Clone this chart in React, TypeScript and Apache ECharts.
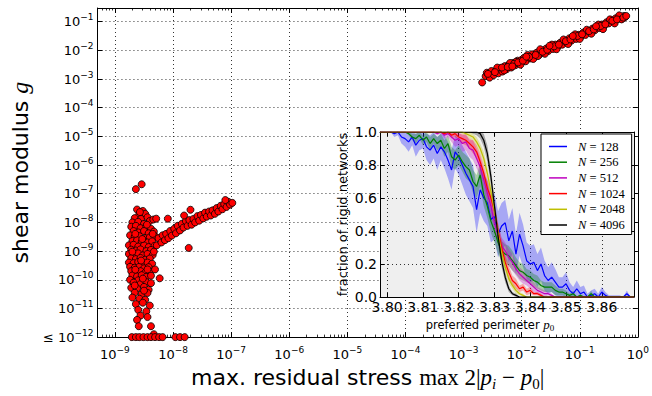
import React, { useEffect, useRef } from 'react';
import * as echarts from 'echarts';

// ---------- Main scatter (values stored as log10 of stress and modulus) ----------
const columnPointsLog: [number, number][] = [
  [-8.62,-7.55],[-8.52,-7.60],[-8.58,-7.72],[-8.48,-7.70],[-8.66,-7.85],[-8.55,-7.88],[-8.44,-7.82],[-8.70,-8.00],[-8.60,-7.98],[-8.50,-8.05],[-8.40,-7.95],[-8.34,-7.90],[-8.29,-7.87],
  [-8.72,-8.15],[-8.64,-8.12],[-8.56,-8.20],[-8.46,-8.15],[-8.38,-8.22],[-8.68,-8.30],[-8.60,-8.35],[-8.50,-8.30],[-8.42,-8.38],[-8.33,-8.32],[-8.74,-8.45],[-8.66,-8.50],[-8.58,-8.48],[-8.48,-8.55],[-8.40,-8.52],[-8.30,-8.50],[-8.70,-8.65],[-8.62,-8.62],[-8.54,-8.68],[-8.44,-8.70],[-8.36,-8.66],[-8.76,-8.80],[-8.68,-8.78],[-8.60,-8.84],[-8.50,-8.80],[-8.42,-8.86],[-8.32,-8.82],[-8.72,-8.95],[-8.64,-8.98],[-8.56,-8.94],[-8.46,-9.00],[-8.38,-8.96],
  [-8.76,-9.10],[-8.68,-9.12],[-8.60,-9.08],[-8.52,-9.15],[-8.44,-9.10],[-8.35,-9.14],[-8.72,-9.25],[-8.64,-9.28],[-8.56,-9.24],[-8.48,-9.30],[-8.40,-9.26],[-8.76,-9.40],[-8.68,-9.42],[-8.60,-9.38],[-8.52,-9.45],[-8.44,-9.40],[-8.36,-9.44],[-8.74,-9.55],[-8.66,-9.58],[-8.58,-9.55],[-8.50,-9.60],[-8.42,-9.56],[-8.72,-9.70],[-8.64,-9.72],[-8.56,-9.70],[-8.48,-9.75],[-8.40,-9.72],[-8.70,-9.85],[-8.62,-9.88],[-8.54,-9.84],[-8.46,-9.90],[-8.38,-9.86],[-8.74,-10.00],[-8.60,-10.02],[-8.31,-9.64],[-8.23,-9.95],
  [-8.68,-10.10],[-8.56,-10.15],[-8.46,-10.08],[-8.38,-10.12],[-8.72,-10.28],[-8.62,-10.30],[-8.50,-10.25],[-8.42,-10.35],[-8.66,-10.45],[-8.54,-10.50],[-8.44,-10.46],[-8.70,-10.62],[-8.58,-10.66],[-8.48,-10.70],[-8.64,-10.85],[-8.52,-10.80],[-8.40,-10.90],[-8.60,-11.05],[-8.46,-11.10],[-8.56,-11.25],[-8.62,-11.40],[-8.44,-11.30],[-8.59,-11.62],[-8.38,-11.62],[-8.33,-11.90],
  [-8.57,-7.64],[-8.45,-8.08],[-8.65,-8.40],[-8.35,-8.40],[-8.53,-8.58],[-8.70,-9.02],[-8.33,-9.02],[-8.55,-9.33],[-8.65,-9.65],[-8.44,-9.64],[-8.52,-9.96],[-8.66,-10.20],[-8.50,-10.38],
  [-8.64,-6.84],[-8.54,-6.67],
];

const branchPointsLog: [number, number][] = [
  [-8.28,-8.80],[-8.25,-8.55],[-8.20,-8.70],[-8.18,-8.45],[-8.14,-8.62],[-8.12,-8.40],[-8.08,-8.55],[-8.05,-8.30],[-8.02,-8.46],[-7.98,-8.22],
  [-7.95,-8.38],[-7.92,-8.12],[-7.88,-8.28],[-7.85,-8.05],[-7.82,-8.18],[-7.78,-7.95],[-7.75,-8.12],[-7.72,-7.92],[-7.68,-8.08],[-7.65,-7.88],
  [-7.62,-8.00],[-7.58,-7.78],[-7.55,-7.94],[-7.52,-7.74],[-7.48,-7.86],[-7.45,-7.66],[-7.42,-7.80],[-7.38,-7.62],[-7.35,-7.76],[-7.32,-7.58],
  [-7.28,-7.70],[-7.25,-7.50],[-7.22,-7.62],[-7.18,-7.42],[-7.15,-7.54],[-7.12,-7.36],[-7.08,-7.46],[-7.05,-7.28],[-7.02,-7.38],[-6.98,-7.32],
  [-7.10,-7.22],[-7.70,-7.56],[-8.09,-7.87],[-7.81,-7.76],[-7.73,-8.89],
];

// stress (log10) of networks whose modulus is at or below 1e-12
const floorStressLog: number[] = [-8.71,-8.64,-8.58,-8.51,-8.44,-8.38,-8.31,-8.24,-8.18,-7.96,-7.88,-7.80];
const floorModulus = 1e-12;

const rigidPointsLog: [number, number][] = [
  [-2.68,-3.12],[-2.62,-2.90],[-2.60,-2.78],[-2.55,-2.95],[-2.52,-2.72],[-2.48,-2.86],[-2.44,-2.70],[-2.40,-2.80],[-2.36,-2.62],[-2.33,-2.74],
  [-2.29,-2.55],[-2.26,-2.66],[-2.22,-2.50],[-2.18,-2.60],[-2.15,-2.44],[-2.11,-2.52],[-2.07,-2.36],[-2.04,-2.46],[-2.00,-2.33],[-1.96,-2.26],
  [-1.93,-2.38],[-1.89,-2.20],[-1.85,-2.28],[-1.82,-2.14],[-1.78,-2.22],[-1.74,-2.08],[-1.70,-2.16],[-1.66,-2.01],[-1.62,-2.08],[-1.58,-1.94],
  [-1.54,-2.02],[-1.50,-1.88],[-1.46,-1.95],[-1.42,-1.80],[-1.38,-1.88],[-1.34,-1.74],[-1.30,-1.80],[-1.26,-1.66],[-1.22,-1.74],[-1.18,-1.58],
  [-1.14,-1.66],[-1.10,-1.52],[-1.06,-1.60],[-1.02,-1.46],[-0.98,-1.52],[-0.94,-1.38],[-0.90,-1.46],[-0.86,-1.32],[-0.82,-1.38],[-0.78,-1.24],
  [-0.74,-1.30],[-0.70,-1.16],[-0.66,-1.22],[-0.62,-1.10],[-0.58,-1.14],[-0.54,-1.02],[-0.50,-1.06],[-0.46,-0.95],[-0.42,-0.98],[-0.38,-0.88],
  [-0.34,-0.90],[-0.30,-0.82],[-0.27,-0.84],[-0.24,-0.80],[-0.26,-0.88],
  [-2.10,-2.40],[-2.02,-2.50],[-1.90,-2.16],[-1.80,-2.30],[-1.68,-1.96],[-1.60,-2.12],[-1.48,-1.80],[-1.40,-1.96],[-1.28,-1.62],[-1.20,-1.78],
  [-1.08,-1.44],[-1.00,-1.60],[-0.88,-1.28],[-0.80,-1.42],[-0.68,-1.10],[-0.60,-1.26],[-0.48,-0.92],[-0.40,-1.06],[-0.32,-0.78],[-0.28,-0.92],
  [-0.22,-0.84],[-2.30,-2.70],[-2.20,-2.44],[-2.42,-2.60],[-1.72,-2.20],
  [-2.58,-2.82],[-2.46,-2.76],[-2.34,-2.60],[-2.24,-2.58],[-2.13,-2.47],[-2.06,-2.42],[-1.98,-2.36],[-1.87,-2.23],[-1.76,-2.16],[-1.64,-2.05],
  [-1.56,-1.98],[-1.44,-1.86],[-1.36,-1.80],[-1.24,-1.68],[-1.16,-1.62],[-1.04,-1.50],[-0.96,-1.44],[-0.84,-1.33],[-0.76,-1.27],[-0.64,-1.15],
  [-0.56,-1.09],[-0.44,-0.97],[-0.36,-0.92],[-0.25,-0.86],[-0.20,-0.80],[-1.52,-1.84],[-1.12,-1.50],[-0.72,-1.16],[-1.92,-2.22],[-2.16,-2.56],
];

// ---------- Inset: fraction of rigid networks vs preferred perimeter ----------
const p0 = [
  3.798,3.799,3.800,3.801,3.802,3.803,3.804,3.805,3.806,3.807,
  3.808,3.809,3.810,3.811,3.812,3.813,3.814,3.815,3.816,3.817,
  3.818,3.819,3.820,3.821,3.822,3.823,3.824,3.825,3.826,3.827,
  3.828,3.829,3.830,3.831,3.832,3.833,3.834,3.835,3.836,3.837,
  3.838,3.839,3.840,3.841,3.842,3.843,3.844,3.845,3.846,3.847,
  3.848,3.849,3.850,3.851,3.852,3.853,3.854,3.855,3.856,3.857,
  3.858,3.859,3.860,3.861,3.862,3.863,3.864,3.865,3.866,3.867,
  3.868,3.869,
];

const frac128 = [
  1,1,1,1,0.99,1,0.97,0.96,0.94,0.97,
  0.92,0.95,0.96,0.91,0.89,0.92,0.87,0.91,0.88,0.83,
  0.77,0.88,0.85,0.80,0.75,0.71,0.67,0.53,0.65,0.60,
  0.57,0.47,0.49,0.38,0.43,0.45,0.34,0.40,0.26,0.38,
  0.31,0.22,0.20,0.21,0.16,0.20,0.13,0.10,0.12,0.09,
  0.06,0.06,0.08,0.04,0.02,0.05,0.02,0.03,0,0.01,
  0.02,0,0.03,0.01,0,0,0,0,0,0.02,
  0,0,
];
const err128 = [
  0,0,0,0,0.02,0.02,0.04,0.05,0.06,0.05,
  0.07,0.06,0.06,0.08,0.09,0.08,0.10,0.08,0.10,0.11,
  0.12,0.10,0.11,0.12,0.13,0.13,0.13,0.14,0.14,0.14,
  0.14,0.14,0.14,0.14,0.14,0.14,0.13,0.14,0.12,0.13,
  0.13,0.11,0.11,0.11,0.10,0.10,0.09,0.08,0.09,0.08,
  0.06,0.06,0.07,0.05,0.04,0.05,0.04,0.04,0.02,0.03,
  0.03,0.02,0.03,0.02,0.01,0.01,0.01,0.01,0,0.02,
  0,0,
];
const frac256 = [
  1,1,1,1,1,1,1,1,0.99,0.97,
  0.96,0.98,0.95,0.97,0.93,0.96,0.93,0.95,0.90,0.93,
  0.85,0.83,0.86,0.82,0.79,0.77,0.70,0.67,0.74,0.62,
  0.55,0.46,0.40,0.33,0.28,0.26,0.25,0.22,0.19,0.16,
  0.15,0.13,0.12,0.10,0.09,0.07,0.06,0.06,0.06,0.04,
  0.03,0.03,0.02,0.01,0.02,0,0.01,0,0,0.02,
  0,0,0,0,0,0,0,0,0,0,
  0,0,
];
const err256 = [
  0,0,0,0,0,0,0,0,0.01,0.02,
  0.03,0.02,0.03,0.03,0.04,0.03,0.04,0.04,0.05,0.05,
  0.06,0.06,0.06,0.06,0.07,0.07,0.07,0.07,0.07,0.07,
  0.07,0.07,0.07,0.07,0.06,0.06,0.06,0.06,0.05,0.05,
  0.05,0.04,0.04,0.04,0.04,0.03,0.03,0.03,0.03,0.03,
  0.02,0.02,0.02,0.01,0.02,0,0.01,0,0,0.02,
  0,0,0,0,0,0,0,0,0,0,
  0,0,
];
const frac512 = [
  1,1,1,1,1,1,1,1,1,1,
  1,1,1,1,1,1,0.99,1,0.98,0.99,
  0.97,0.95,0.96,0.93,0.94,0.90,0.89,0.84,0.79,0.71,
  0.63,0.55,0.45,0.38,0.31,0.28,0.24,0.21,0.17,0.14,
  0.12,0.10,0.08,0.06,0.04,0.03,0.02,0.02,0.01,0,
  0,0,0,0,0,0,0,0,0,0,
  0,0,0,0,0,0,0,0,0,0,
  0,0,
];
const err512 = [
  0,0,0,0,0,0,0,0,0,0,
  0,0,0,0,0,0,0.01,0.01,0.02,0.02,
  0.03,0.04,0.04,0.05,0.05,0.05,0.06,0.06,0.06,0.06,
  0.06,0.06,0.06,0.06,0.05,0.05,0.05,0.05,0.04,0.04,
  0.04,0.03,0.03,0.03,0.02,0.02,0.02,0.01,0.01,0,
  0,0,0,0,0,0,0,0,0,0,
  0,0,0,0,0,0,0,0,0,0,
  0,0,
];
const frac1024 = [
  1,1,1,1,1,1,1,1,1,1,
  1,1,1,1,1,1,1,1,0.99,1,
  0.98,0.99,0.97,0.96,0.95,0.93,0.91,0.88,0.82,0.75,
  0.66,0.60,0.52,0.40,0.30,0.21,0.15,0.10,0.08,0.05,
  0.06,0.03,0.04,0.02,0.02,0.01,0,0,0,0,
  0,0,0,0,0,0,0,0,0,0,
  0,0,0,0,0,0,0,0,0,0,
  0,0,
];
const err1024 = [
  0,0,0,0,0,0,0,0,0,0,
  0,0,0,0,0,0,0,0,0.01,0.01,
  0.02,0.02,0.02,0.03,0.03,0.03,0.04,0.04,0.05,0.05,
  0.05,0.05,0.05,0.05,0.05,0.04,0.04,0.03,0.03,0.02,
  0.02,0.02,0.02,0.01,0.01,0.01,0,0,0,0,
  0,0,0,0,0,0,0,0,0,0,
  0,0,0,0,0,0,0,0,0,0,
  0,0,
];
const frac2048 = [
  1,1,1,1,1,1,1,1,1,1,
  1,1,1,1,1,1,1,1,1,1,
  1,1,1,1,0.99,0.98,0.97,0.94,0.90,0.84,
  0.75,0.64,0.52,0.39,0.27,0.18,0.11,0.07,0.04,0.02,
  0.01,0,0,0,0,0,0,0,0,0,
  0,0,0,0,0,0,0,0,0,0,
  0,0,0,0,0,0,0,0,0,0,
  0,0,
];
const err2048 = [
  0,0,0,0,0,0,0,0,0,0,
  0,0,0,0,0,0,0,0,0,0,
  0,0,0,0.01,0.01,0.02,0.02,0.03,0.03,0.04,
  0.04,0.04,0.04,0.04,0.04,0.03,0.03,0.02,0.02,0.01,
  0.01,0,0,0,0,0,0,0,0,0,
  0,0,0,0,0,0,0,0,0,0,
  0,0,0,0,0,0,0,0,0,0,
  0,0,
];
const frac4096 = [
  1,1,1,1,1,1,1,1,1,1,
  1,1,1,1,1,1,1,1,1,1,
  1,1,1,1,1,1,1,1,0.99,0.95,
  0.87,0.73,0.55,0.37,0.22,0.12,0.05,0.02,0.01,0,
  0,0,0,0,0,0,0,0,0,0,
  0,0,0,0,0,0,0,0,0,0,
  0,0,0,0,0,0,0,0,0,0,
  0,0,
];
const err4096 = [
  0,0,0,0,0,0,0,0,0,0,
  0,0,0,0,0,0,0,0,0,0,
  0,0,0,0,0,0,0.01,0.02,0.03,0.04,
  0.05,0.05,0.05,0.05,0.04,0.03,0.02,0.01,0.01,0,
  0,0,0,0,0,0,0,0,0,0,
  0,0,0,0,0,0,0,0,0,0,
  0,0,0,0,0,0,0,0,0,0,
  0,0,
];

const systemSizes = ['128', '256', '512', '1024', '2048', '4096'];
const fractions = [frac128, frac256, frac512, frac1024, frac2048, frac4096];
const errors = [err128, err256, err512, err1024, err2048, err4096];
const lineColors = ['#0000ff', '#008000', '#bf00bf', '#ff0000', '#bfbf00', '#000000'];
const bandColors = [
  'rgba(0,0,255,0.3)', 'rgba(0,128,0,0.3)', 'rgba(191,0,191,0.3)',
  'rgba(255,0,0,0.3)', 'rgba(191,191,0,0.3)', 'rgba(0,0,0,0.3)',
];

const SANS = 'DejaVu Sans';
const SERIF = 'Liberation Serif';

const tickRich = {
  b: { fontFamily: SANS, fontSize: 13, color: '#000', lineHeight: 18 },
  s: { fontFamily: SANS, fontSize: 9, color: '#000', lineHeight: 11, verticalAlign: 'top' },
};

function exponentOf(v: number): number | null {
  const e = Math.log10(v);
  const r = Math.round(e);
  return Math.abs(e - r) < 1e-6 ? r : null;
}
function expText(r: number): string {
  return r < 0 ? '\u2212' + String(-r) : String(r);
}

export default function App() {
  const ref = useRef<HTMLDivElement>(null);
  useEffect(() => {
    if (!ref.current) return;
    const chart = echarts.init(ref.current, undefined, { renderer: 'svg' });

    const toVal = (pts: [number, number][]) => pts.map(([lx, ly]) => [Math.pow(10, lx), Math.pow(10, ly)]);
    const scatterData = [
      ...toVal(columnPointsLog),
      ...toVal(branchPointsLog),
      ...floorStressLog.map((lx) => [Math.pow(10, lx), floorModulus]),
      ...toVal(rigidPointsLog),
    ];

    const dotted = { color: '#000', width: 0.8, type: [1, 3] as any };

    const mainX = {
      type: 'log', logBase: 10, gridIndex: 0, min: 5e-10, max: 1,
      axisLine: { show: true, onZero: false, lineStyle: { color: '#000', width: 1 } },
      axisTick: { show: true, inside: true, length: 5, lineStyle: { color: '#000', width: 1 } },
      minorTick: { show: true, splitNumber: 9, length: 2.5, lineStyle: { color: '#000', width: 0.8 } },
    };
    const mainY = {
      type: 'log', logBase: 10, gridIndex: 0, min: 1e-12, max: 0.3, interval: 1,
      axisLine: { show: true, onZero: false, lineStyle: { color: '#000', width: 1 } },
      axisTick: { show: true, inside: true, length: 5, lineStyle: { color: '#000', width: 1 } },
    };
    const insetX = {
      type: 'value', gridIndex: 1, min: 3.798, max: 3.869, splitNumber: 7, z: 4,
      axisLine: { show: true, onZero: false, lineStyle: { color: '#000', width: 1 } },
      axisTick: { show: true, inside: true, length: 4, lineStyle: { color: '#000', width: 1 } },
    };
    const insetY = {
      type: 'value', gridIndex: 1, min: 0, max: 1, interval: 0.2, z: 4,
      axisLine: { show: true, onZero: false, lineStyle: { color: '#000', width: 1 } },
      axisTick: { show: true, inside: true, length: 4, lineStyle: { color: '#000', width: 1 } },
    };

    const bandSeries = fractions.map((f, k) => {
      const err = errors[k];
      const lo = f.map((m, i) => Math.max(0, m - err[i]));
      const hi = f.map((m, i) => Math.min(1, m + err[i]));
      return {
        type: 'custom', xAxisIndex: 2, yAxisIndex: 2, z: 5, silent: true,
        data: [[p0[0], 0]],
        renderItem: (_params: any, api: any) => {
          const upper = p0.map((x, i) => api.coord([x, hi[i]]));
          const lower = p0.map((x, i) => api.coord([x, lo[i]])).reverse();
          return { type: 'polygon', shape: { points: upper.concat(lower) }, style: { fill: bandColors[k] } };
        },
      };
    });

    const lineSeries = fractions.map((f, k) => ({
      type: 'line', name: 'N=' + systemSizes[k], xAxisIndex: 2, yAxisIndex: 2, z: 6,
      data: p0.map((x, i) => [x, f[i]]),
      symbol: 'none', color: lineColors[k],
      lineStyle: { color: lineColors[k], width: 1.2 },
      itemStyle: { color: lineColors[k] },
    }));

    const option: any = {
      animation: false,
      backgroundColor: '#fff',
      textStyle: { fontFamily: SANS, color: '#000' },
      grid: [
        { left: 78, top: 8, right: 14, bottom: 52, containLabel: false },
        { left: 380, top: 132, right: 18, bottom: 99, containLabel: false, show: true,
          backgroundColor: '#efefef', borderWidth: 0, z: 3 },
      ],
      xAxis: [
        { ...mainX, position: 'bottom',
          splitLine: { show: true, lineStyle: dotted },
          axisLabel: { margin: 8, color: '#000', rich: tickRich,
            formatter: (v: number) => { const r = exponentOf(v); return r === null ? '' : `{b|10}{s|${expText(r)}}`; } },
          name: '{n|max. residual stress }{m|max 2|}{i|p}{sub|i}{m| \u2212 }{i|p}{sub0|0}{m||}',
          nameLocation: 'middle', nameGap: 25,
          nameTextStyle: { rich: {
            n: { fontFamily: SANS, fontSize: 22, color: '#000', lineHeight: 28 },
            m: { fontFamily: SERIF, fontSize: 23, color: '#000', lineHeight: 28 },
            i: { fontFamily: SERIF, fontStyle: 'italic', fontSize: 23, color: '#000', lineHeight: 28 },
            sub: { fontFamily: SERIF, fontStyle: 'italic', fontSize: 15, color: '#000', lineHeight: 18, verticalAlign: 'bottom' },
            sub0: { fontFamily: SERIF, fontSize: 15, color: '#000', lineHeight: 18, verticalAlign: 'bottom' },
          } } },
        { ...mainX, position: 'top', splitLine: { show: false }, axisLabel: { show: false } },
        { ...insetX, position: 'bottom',
          splitLine: { show: true, lineStyle: dotted },
          axisLabel: { margin: 3, color: '#000', fontSize: 14, fontFamily: SANS, showMinLabel: false, showMaxLabel: false,
            formatter: (v: number) => (Math.abs(v * 100 - Math.round(v * 100)) < 1e-6 ? v.toFixed(2) : '') },
          name: '{n|preferred perimeter }{i|p}{sub0|0}',
          nameLocation: 'middle', nameGap: 20,
          nameTextStyle: { padding: [0, 34, 0, 0], rich: {
            n: { fontFamily: SANS, fontSize: 11.5, color: '#000', lineHeight: 15 },
            i: { fontFamily: SERIF, fontStyle: 'italic', fontSize: 13, color: '#000', lineHeight: 15 },
            sub0: { fontFamily: SERIF, fontSize: 9, color: '#000', lineHeight: 11, verticalAlign: 'bottom' },
          } } },
        { ...insetX, position: 'top', splitLine: { show: false }, axisLabel: { show: false } },
      ],
      yAxis: [
        { ...mainY, position: 'left',
          splitLine: { show: true, lineStyle: dotted },
          axisLabel: { margin: 4, color: '#000', rich: { ...tickRich, le: { fontFamily: SANS, fontSize: 13, color: '#000', lineHeight: 18 } },
            showMinLabel: true,
            formatter: (v: number) => {
              const r = exponentOf(v);
              if (r === null) return '';
              return (r === -12 ? '{le|\u2264 }' : '') + `{b|10}{s|${expText(r)}}`;
            } },
          name: '{n|shear modulus }{g|g}',
          nameLocation: 'middle', nameGap: 42,
          nameTextStyle: { rich: {
            n: { fontFamily: SANS, fontSize: 22, color: '#000', lineHeight: 28 },
            g: { fontFamily: SERIF, fontStyle: 'italic', fontSize: 24, color: '#000', lineHeight: 28 },
          } } },
        { ...mainY, position: 'right', splitLine: { show: false }, axisLabel: { show: false } },
        { ...insetY, position: 'left',
          splitLine: { show: true, lineStyle: dotted },
          axisLabel: { margin: 3, color: '#000', fontSize: 14, fontFamily: SANS, formatter: (v: number) => v.toFixed(1) },
          name: 'fraction of rigid networks', nameLocation: 'middle', nameGap: 31,
          nameTextStyle: { fontFamily: SANS, fontSize: 13, color: '#000' } },
        { ...insetY, position: 'right', splitLine: { show: false }, axisLabel: { show: false } },
      ],
      legend: {
        data: systemSizes.map((s) => 'N=' + s),
        orient: 'vertical', left: 541, top: 134, z: 10,
        icon: 'rect', itemWidth: 18, itemHeight: 1.5, itemGap: 2.7,
        backgroundColor: '#fff', borderColor: '#000', borderWidth: 1, borderRadius: 0,
        padding: [6, 7, 3, 8],
        formatter: (name: string) => `{i|N}{r| = ${name.split('=')[1]}}`,
        textStyle: { padding: [0, 0, 0, 6], rich: {
          i: { fontFamily: SERIF, fontStyle: 'italic', fontSize: 12.5, color: '#000', lineHeight: 14 },
          r: { fontFamily: SERIF, fontSize: 12.5, color: '#000', lineHeight: 14 },
        } },
      },
      series: [
        {
          type: 'scatter', xAxisIndex: 0, yAxisIndex: 0, z: 3, clip: false,
          data: scatterData, symbol: 'circle', symbolSize: 7,
          itemStyle: { color: '#ff0000', borderColor: '#000', borderWidth: 0.8, opacity: 1 },
        },
        ...bandSeries,
        ...lineSeries,
      ],
    };

    chart.setOption(option);
    return () => chart.dispose();
  }, []);

  return <div ref={ref} style={{ position: 'absolute', left: 0, top: 0, width: 652, height: 396 }} />;
}
